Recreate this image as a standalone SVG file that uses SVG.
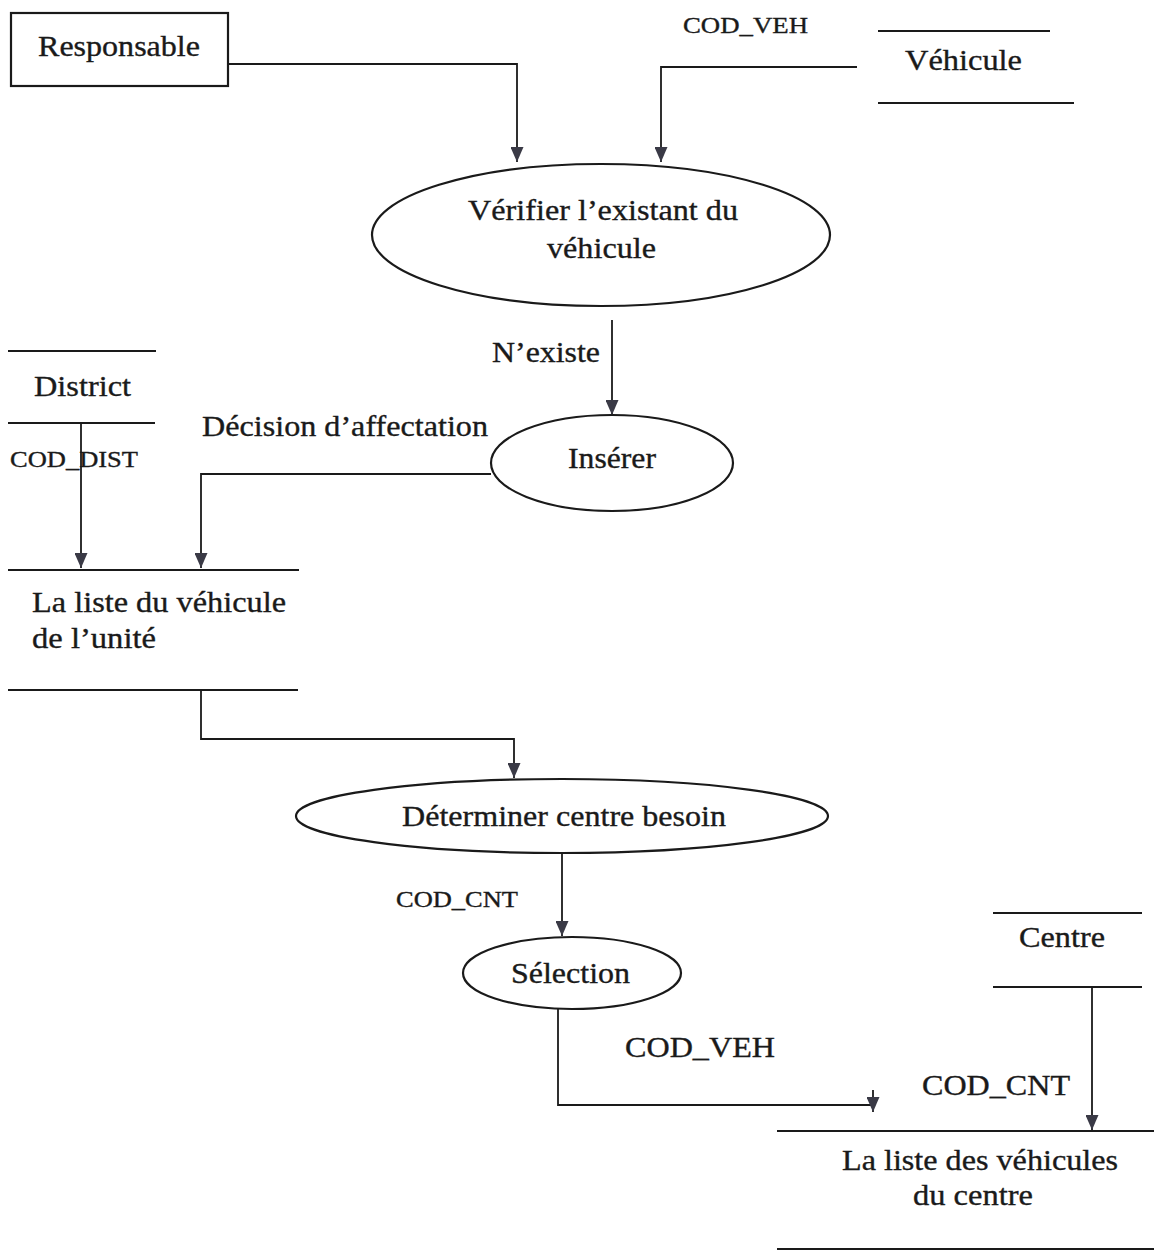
<svg xmlns="http://www.w3.org/2000/svg" width="1154" height="1251" viewBox="0 0 1154 1251">
  <style>
    .bg { fill: #ffffff; }
    .shape { fill: none; stroke: #1a1a1a; stroke-width: 2.2; }
    .store { stroke: #1a1a1a; stroke-width: 2.2; }
    .flow { fill: none; stroke: #1a1a1a; stroke-width: 1.8; }
    text { font-family: "Liberation Serif", "Times New Roman", serif; fill: #1a1a1a; stroke: #1a1a1a; stroke-width: 0.35; }
    .lbl { font-size: 29px; }
    .sm { font-size: 23px; }
  </style>
  <defs>
    <!-- filled triangular head drawn along +x so orient="auto" follows the line -->
    <marker id="arrow" viewBox="0 0 15 13" refX="15" refY="6.5" markerWidth="15" markerHeight="13" markerUnits="userSpaceOnUse" orient="auto">
      <path d="M0,0 L15,6.5 L0,13 Z" fill="#3a3a46"/>
    </marker>
  </defs>
  <rect class="bg" x="0" y="0" width="1154" height="1251"/>

  <!-- external entity -->
  <g id="responsable">
    <rect class="shape" x="11" y="13" width="217" height="73"/>
    <text class="lbl" x="38" y="56" textLength="162" lengthAdjust="spacingAndGlyphs">Responsable</text>
  </g>

  <!-- data stores -->
  <g id="store-vehicule">
    <line class="store" x1="878" y1="31" x2="1050" y2="31"/>
    <text class="lbl" x="905" y="70" textLength="117" lengthAdjust="spacingAndGlyphs">Véhicule</text>
    <line class="store" x1="878" y1="103" x2="1074" y2="103"/>
  </g>
  <g id="store-district">
    <line class="store" x1="8" y1="351" x2="156" y2="351"/>
    <text class="lbl" x="34" y="396" textLength="97" lengthAdjust="spacingAndGlyphs">District</text>
    <line class="store" x1="8" y1="423" x2="155" y2="423"/>
  </g>
  <g id="store-liste-unite">
    <line class="store" x1="8" y1="570" x2="299" y2="570"/>
    <text class="lbl" x="32" y="612" textLength="254" lengthAdjust="spacingAndGlyphs">La liste du véhicule</text>
    <text class="lbl" x="32" y="648" textLength="124" lengthAdjust="spacingAndGlyphs">de l’unité</text>
    <line class="store" x1="8" y1="690" x2="298" y2="690"/>
  </g>
  <g id="store-centre">
    <line class="store" x1="993" y1="913" x2="1142" y2="913"/>
    <text class="lbl" x="1019" y="947" textLength="86" lengthAdjust="spacingAndGlyphs">Centre</text>
    <line class="store" x1="993" y1="987" x2="1142" y2="987"/>
  </g>
  <g id="store-liste-centre">
    <line class="store" x1="777" y1="1131" x2="1154" y2="1131"/>
    <text class="lbl" x="842" y="1170" textLength="276" lengthAdjust="spacingAndGlyphs">La liste des véhicules</text>
    <text class="lbl" x="913" y="1205" textLength="120" lengthAdjust="spacingAndGlyphs">du centre</text>
    <line class="store" x1="777" y1="1249" x2="1154" y2="1249"/>
  </g>

  <!-- processes -->
  <g id="proc-verifier">
    <ellipse class="shape" cx="601" cy="235" rx="229" ry="71"/>
    <text class="lbl" x="468" y="220" textLength="270" lengthAdjust="spacingAndGlyphs">Vérifier l’existant du</text>
    <text class="lbl" x="547" y="258" textLength="109" lengthAdjust="spacingAndGlyphs">véhicule</text>
  </g>
  <g id="proc-inserer">
    <ellipse class="shape" cx="612" cy="463" rx="121" ry="48"/>
    <text class="lbl" x="568" y="468" textLength="88" lengthAdjust="spacingAndGlyphs">Insérer</text>
  </g>
  <g id="proc-determiner">
    <ellipse class="shape" cx="562" cy="816" rx="266" ry="37"/>
    <text class="lbl" x="402" y="826" textLength="324" lengthAdjust="spacingAndGlyphs">Déterminer centre besoin</text>
  </g>
  <g id="proc-selection">
    <ellipse class="shape" cx="572" cy="973" rx="109" ry="36"/>
    <text class="lbl" x="511" y="983" textLength="119" lengthAdjust="spacingAndGlyphs">Sélection</text>
  </g>

  <!-- data flows -->
  <g id="connectors">
    <polyline class="flow" points="228,64 517,64 517,162" marker-end="url(#arrow)"/>
    <polyline class="flow" points="857,67 661,67 661,162" marker-end="url(#arrow)"/>
    <line class="flow" x1="612" y1="320" x2="612" y2="415" marker-end="url(#arrow)"/>
    <line class="flow" x1="81" y1="423" x2="81" y2="568" marker-end="url(#arrow)"/>
    <polyline class="flow" points="491,474 201,474 201,568" marker-end="url(#arrow)"/>
    <polyline class="flow" points="201,690 201,739 514,739 514,778" marker-end="url(#arrow)"/>
    <line class="flow" x1="562" y1="853" x2="562" y2="936" marker-end="url(#arrow)"/>
    <polyline class="flow" points="558,1009 558,1105 873,1105"/>
    <line class="flow" x1="873" y1="1090" x2="873" y2="1112" marker-end="url(#arrow)"/>
    <line class="flow" x1="1092" y1="987" x2="1092" y2="1130" marker-end="url(#arrow)"/>

    <text class="sm" x="683" y="33" textLength="125" lengthAdjust="spacingAndGlyphs">COD_VEH</text>
    <text class="lbl" x="492" y="362" textLength="108" lengthAdjust="spacingAndGlyphs">N’existe</text>
    <text class="lbl" x="202" y="436" textLength="286" lengthAdjust="spacingAndGlyphs">Décision d’affectation</text>
    <text class="sm" x="10" y="467" textLength="128" lengthAdjust="spacingAndGlyphs">COD_DIST</text>
    <text class="sm" x="396" y="907" textLength="122" lengthAdjust="spacingAndGlyphs">COD_CNT</text>
    <text class="lbl" x="625" y="1057" textLength="150" lengthAdjust="spacingAndGlyphs">COD_VEH</text>
    <text class="lbl" x="922" y="1095" textLength="148" lengthAdjust="spacingAndGlyphs">COD_CNT</text>
  </g>
</svg>
